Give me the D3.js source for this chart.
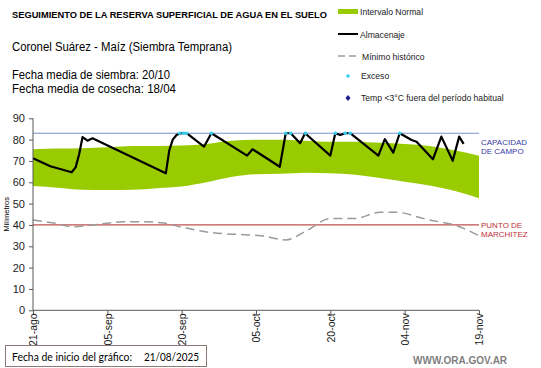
<!DOCTYPE html>
<html>
  <head>
    <meta charset="utf-8">
    <script src="https://d3js.org/d3.v7.min.js"></script>
    <style>
      body { margin: 0; background: #fff; }
      text { font-family: "Liberation Sans", Arial, sans-serif; }
      .axis path, .axis line { stroke: #595959; }
      .axis text { font-size: 11px; fill: #222; }
      .legend text { font-size: 8.6px; fill: #222; }
    </style>
  </head>
  <body>
    <svg width="541" height="368"></svg>
    <script>
      // days counted from 21/08/2025
      const tickDays = [0, 15, 30, 45, 60, 75, 90];
      const tickLabels = ["21-ago", "05-sep", "20-sep", "05-oct", "20-oct", "04-nov", "19-nov"];
      const yTicks = [0, 10, 20, 30, 40, 50, 60, 70, 80, 90];

      const bandDays  = [0, 5, 10, 15, 20, 25, 30, 35, 40, 45, 50, 55, 60, 65, 70, 75, 80, 85, 90];
      const bandUpper = [75.5, 75.8, 76, 76.4, 77, 77, 77.2, 78, 79.5, 80, 80, 79.5, 79, 79, 78.5, 78, 77, 75, 72.5];
      const bandLower = [58.3, 57.5, 56.5, 56.4, 56.5, 57.2, 58, 60, 62.5, 63.8, 64, 64.5, 64.2, 63.5, 62, 60.3, 58.5, 56, 52.5];

      const minDays = [0, 4, 8, 12, 15, 18, 22, 26, 30, 36, 42, 46, 51, 55, 60, 65, 70, 73, 80, 85, 90];
      const minVals = [42.3, 41, 39.2, 40, 40.8, 41.5, 41.5, 41, 39, 36.4, 35.5, 35, 33, 37, 43, 43, 46, 46, 42.3, 40, 35];

      const almDays = [0, 3.5, 7.8, 8.6, 9.3, 10, 11, 12, 26.8, 27.5, 28.2, 29, 30, 31, 34.5, 36, 43.2, 44.3, 49.8, 51, 52, 53.9, 54.9,
                       60, 61, 62, 63, 64, 69.7, 71, 72.7, 74, 76.4, 77.4, 80.7, 82.4, 84.7, 86, 86.9];
      const almVals = [71.3, 67.5, 64.7, 67, 73, 81.2, 79.5, 80.6, 64.2, 75, 80, 82.3, 83, 83, 76.7, 83, 72.5, 75.5, 67.3, 83, 83, 78.3, 83,
                       72.5, 83, 82.2, 83, 83, 72.5, 80.2, 73.9, 83, 79.8, 79, 70.8, 81.4, 70.1, 81.4, 78];

      const excesoDays = [29.6, 30.4, 31, 36, 51, 52, 55, 61, 63, 64, 74];
      const capacidad = 83;
      const marchitez = 40;

      const svg = d3.select("svg");
      const x = d3.scaleLinear().domain([0, 90]).range([33, 479]);
      const y = d3.scaleLinear().domain([0, 90]).range([310.3, 118.3]);

      // band
      const band = bandDays.map((d, i) => ({d, hi: bandUpper[i], lo: bandLower[i]}));
      svg.append("path")
          .datum(band)
          .attr("fill", "#99cc00")
          .attr("d", d3.area().curve(d3.curveMonotoneX)
            .x(p => x(p.d)).y0(p => y(p.lo)).y1(p => y(p.hi)));

      // reference lines
      svg.append("line")
          .attr("x1", x(0)).attr("x2", x(90))
          .attr("y1", y(capacidad)).attr("y2", y(capacidad))
          .attr("stroke", "#7b8fd0").attr("stroke-width", 1.2);
      svg.append("line")
          .attr("x1", x(0)).attr("x2", x(90))
          .attr("y1", y(marchitez)).attr("y2", y(marchitez))
          .attr("stroke", "#c0504d").attr("stroke-width", 1.2);

      // minimo historico
      svg.append("path")
          .datum(minDays.map((d, i) => [d, minVals[i]]))
          .attr("fill", "none")
          .attr("stroke", "#9a9a9a")
          .attr("stroke-width", 1.5)
          .attr("stroke-dasharray", "9,5")
          .attr("d", d3.line().curve(d3.curveMonotoneX).x(p => x(p[0])).y(p => y(p[1])));

      // almacenaje
      svg.append("path")
          .datum(almDays.map((d, i) => [d, almVals[i]]))
          .attr("fill", "none")
          .attr("stroke", "#000")
          .attr("stroke-width", 2.2)
          .attr("stroke-linejoin", "round")
          .attr("d", d3.line().x(p => x(p[0])).y(p => y(p[1])));

      svg.selectAll(".exceso")
        .data(excesoDays)
        .enter().append("circle")
          .attr("class", "exceso")
          .attr("cx", d => x(d))
          .attr("cy", y(capacidad))
          .attr("r", 1.8)
          .attr("fill", "#33ccee");

      // axes
      svg.append("g")
          .attr("class", "axis")
          .attr("transform", `translate(${x(0)},0)`)
          .call(d3.axisLeft(y).tickValues(yTicks).tickSize(4).tickPadding(4))
          .call(g => g.select(".domain").attr("d", `M0,${y(90)}V${y(0)}`));

      const xAxis = svg.append("g")
          .attr("class", "axis")
          .attr("transform", `translate(0,${y(0)})`)
          .call(d3.axisBottom(x).tickValues(tickDays).tickFormat((d, i) => tickLabels[i]).tickSize(4))
          .call(g => g.select(".domain").attr("d", `M${x(0)},0H${x(90)}`));
      xAxis.selectAll("text")
          .attr("transform", "rotate(-90)")
          .attr("text-anchor", "end")
          .attr("x", -3)
          .attr("y", 0)
          .attr("dy", "0.35em")
          .style("font-size", "10.5px");

      svg.append("text")
          .attr("transform", `translate(9,${y(45)}) rotate(-90)`)
          .attr("text-anchor", "middle")
          .attr("font-size", 7.5)
          .text("Milímetros");

      // labels right of reference lines
      const capLbl = svg.append("text").attr("fill", "#3a3aa8").attr("font-size", 8);
      capLbl.append("tspan").attr("x", 481).attr("y", y(capacidad) + 12).text("CAPACIDAD");
      capLbl.append("tspan").attr("x", 481).attr("y", y(capacidad) + 21).text("DE  CAMPO");
      const pmLbl = svg.append("text").attr("fill", "#c0303a").attr("font-size", 8);
      pmLbl.append("tspan").attr("x", 481).attr("y", y(marchitez) + 3).text("PUNTO  DE");
      pmLbl.append("tspan").attr("x", 481).attr("y", y(marchitez) + 12).text("MARCHITEZ");

      // titles
      svg.append("text").attr("x", 12).attr("y", 18)
          .attr("font-size", 9.3).attr("font-weight", "bold")
          .text("SEGUIMIENTO DE LA RESERVA SUPERFICIAL DE AGUA EN EL SUELO");
      svg.append("text").attr("x", 12).attr("y", 51).attr("font-size", 12.5)
          .attr("textLength", 220).attr("lengthAdjust", "spacingAndGlyphs")
          .text("Coronel Suárez - Maíz (Siembra Temprana)");
      svg.append("text").attr("x", 12).attr("y", 79).attr("font-size", 12.5)
          .attr("textLength", 158).attr("lengthAdjust", "spacingAndGlyphs")
          .text("Fecha media de siembra: 20/10");
      svg.append("text").attr("x", 12).attr("y", 93).attr("font-size", 12.5)
          .attr("textLength", 164).attr("lengthAdjust", "spacingAndGlyphs")
          .text("Fecha media de cosecha: 18/04");

      // legend
      const lg = svg.append("g").attr("class", "legend");
      lg.append("rect").attr("x", 338).attr("y", 9).attr("width", 20).attr("height", 5).attr("fill", "#99cc00");
      lg.append("text").attr("x", 360).attr("y", 15).text("Intervalo Normal");
      lg.append("line").attr("x1", 338).attr("x2", 358).attr("y1", 34).attr("y2", 34)
          .attr("stroke", "#000").attr("stroke-width", 2);
      lg.append("text").attr("x", 360).attr("y", 38).text("Almacenaje");
      lg.append("line").attr("x1", 338).attr("x2", 358).attr("y1", 56).attr("y2", 56)
          .attr("stroke", "#9a9a9a").attr("stroke-width", 1.5).attr("stroke-dasharray", "7,4");
      lg.append("text").attr("x", 362).attr("y", 60).text("Mínimo histórico");
      lg.append("circle").attr("cx", 348).attr("cy", 76).attr("r", 1.8).attr("fill", "#33ccee");
      lg.append("text").attr("x", 361).attr("y", 79).text("Exceso");
      lg.append("path").attr("d", "M348,95L350.5,98L348,101L345.5,98Z").attr("fill", "#1a1a8c");
      lg.append("text").attr("x", 361).attr("y", 101).text("Temp <3°C fuera del período habitual");

      // footer
      svg.append("rect").attr("x", 5.5).attr("y", 345.5).attr("width", 201).attr("height", 21)
          .attr("fill", "#fff").attr("stroke", "#8a7a78");
      svg.append("text").attr("x", 12).attr("y", 361).attr("font-size", 11.5)
          .attr("textLength", 120).attr("lengthAdjust", "spacingAndGlyphs")
          .style("font-family", "Lato, sans-serif").text("Fecha de inicio del gráfico:");
      svg.append("text").attr("x", 144).attr("y", 361).attr("font-size", 11.5)
          .attr("textLength", 55).attr("lengthAdjust", "spacingAndGlyphs")
          .style("font-family", "Lato, sans-serif").text("21/08/2025");
      svg.append("text").attr("x", 413).attr("y", 364).attr("font-size", 10)
          .attr("font-weight", "bold").attr("fill", "#7f7f7f").text("WWW.ORA.GOV.AR");
    </script>
  </body>
</html>
